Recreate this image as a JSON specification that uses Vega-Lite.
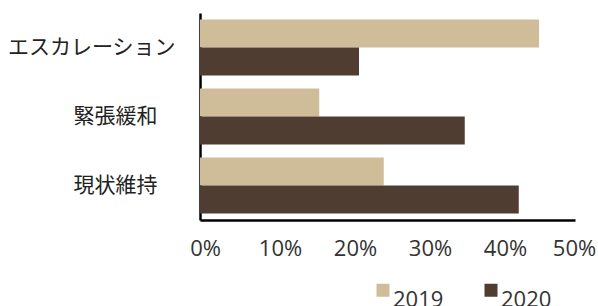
{
  "$schema": "https://vega.github.io/schema/vega-lite/v6.json",
  "width": 375,
  "height": 207,
  "autosize": {"type": "none"},
  "padding": {"left": 200, "top": 13, "right": 23, "bottom": 86},
  "background": "white",
  "config": {"view": {"stroke": null}, "font": "Open Sans"},
  "data": {
    "values": [
      {"category": "エスカレーション", "year": "2019", "value": 45.2},
      {"category": "エスカレーション", "year": "2020", "value": 21.2},
      {"category": "緊張緩和", "year": "2019", "value": 15.9},
      {"category": "緊張緩和", "year": "2020", "value": 35.3},
      {"category": "現状維持", "year": "2019", "value": 24.5},
      {"category": "現状維持", "year": "2020", "value": 42.5}
    ]
  },
  "mark": {"type": "bar"},
  "encoding": {
    "y": {
      "field": "category",
      "type": "nominal",
      "sort": ["エスカレーション", "緊張緩和", "現状維持"],
      "scale": {"paddingInner": 0.19, "paddingOuter": 0.095},
      "axis": {
        "title": null,
        "grid": false,
        "ticks": false,
        "domainColor": "#000000",
        "domainWidth": 2.5,
        "labelFont": "Noto Sans CJK JP",
        "labelFontSize": 21,
        "labelColor": "#222222",
        "labelPadding": {"condition": {"test": "datum.value === 'エスカレーション'", "value": 25}, "value": 43}
      }
    },
    "yOffset": {"field": "year", "type": "nominal", "sort": ["2019", "2020"]},
    "x": {
      "field": "value",
      "type": "quantitative",
      "scale": {"domain": [0, 50], "nice": false},
      "axis": {
        "title": null,
        "grid": false,
        "ticks": false,
        "tickSize": 0,
        "values": [0, 10, 20, 30, 40, 50],
        "labelExpr": "datum.value + '%'",
        "labelFlush": false,
        "labelFont": "Open Sans",
        "labelFontSize": 22,
        "labelColor": "#333333",
        "labelPadding": 18,
        "labelOffset": {"condition": {"test": "datum.value === 50", "value": -1}, "value": 5},
        "domainColor": "#000000",
        "domainWidth": 2.5
      }
    },
    "color": {
      "field": "year",
      "type": "nominal",
      "sort": ["2019", "2020"],
      "scale": {"domain": ["2019", "2020"], "range": ["#cfbc99", "#4f3d32"]},
      "legend": {
        "title": null,
        "orient": "none",
        "direction": "horizontal",
        "legendX": 172,
        "legendY": 276,
        "padding": 0,
        "symbolType": "M-1,-2.5H1V-0.5H-1Z",
        "symbolSize": 169,
        "symbolStrokeWidth": 0,
        "labelFont": "Open Sans",
        "labelFontSize": 22,
        "labelColor": "#333333",
        "labelOffset": -1,
        "labelBaseline": "middle",
        "columnPadding": 36
      }
    }
  }
}
